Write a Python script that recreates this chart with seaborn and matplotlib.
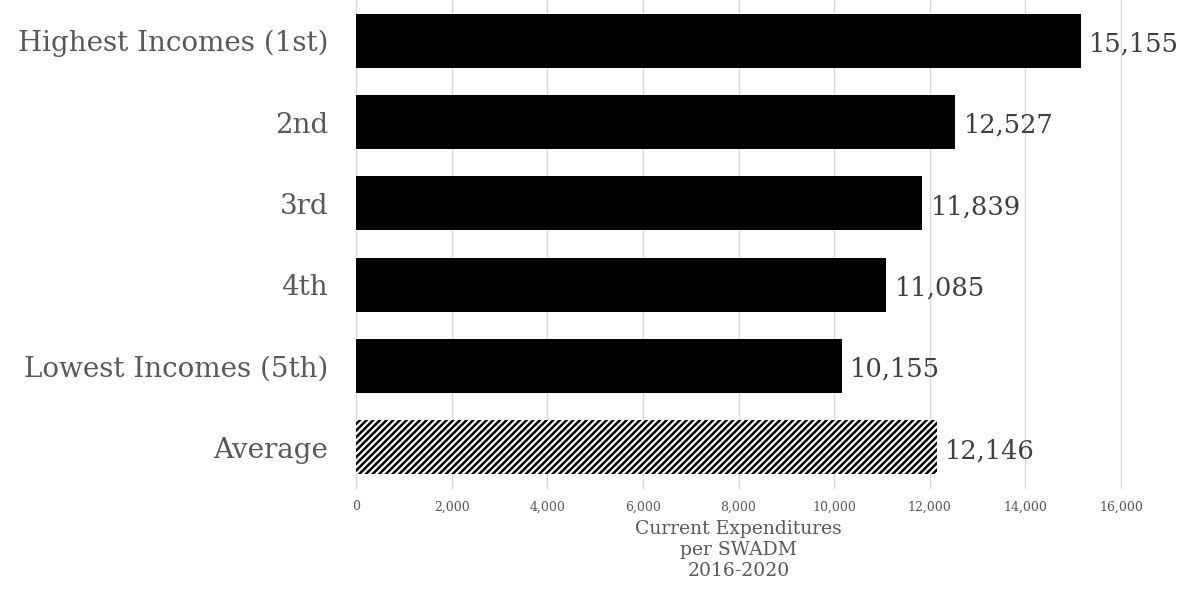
import matplotlib
matplotlib.use("Agg")
import matplotlib.pyplot as plt
import seaborn as sns
import pandas as pd
from matplotlib.ticker import FuncFormatter

categories = ["Highest Incomes (1st)", "2nd", "3rd", "4th", "Lowest Incomes (5th)", "Average"]
expenditures = [15155, 12527, 11839, 11085, 10155, 12146]
x_ticks = [0, 2000, 4000, 6000, 8000, 10000, 12000, 14000, 16000]

df = pd.DataFrame({"group": categories, "value": expenditures})

sns.set_theme(style="white")
plt.rcParams["font.family"] = ["DejaVu Serif"]
plt.rcParams["hatch.linewidth"] = 1.8
plt.rcParams["hatch.color"] = "black"

fig = plt.figure(figsize=(11.87, 5.89), dpi=100)
ax = fig.add_axes([356 / 1187, 1 - 488 / 589, (1121 - 356) / 1187, 488 / 589])

sns.barplot(data=df, x="value", y="group", order=categories, color="black",
            width=0.66, linewidth=0, saturation=1, ax=ax)

# the average bar is drawn hatched
avg = ax.patches[-1]
avg.set_facecolor("white")
avg.set_edgecolor("black")
avg.set_hatch("/////")
avg.set_linewidth(0)

for patch, v in zip(ax.patches, expenditures):
    y = patch.get_y() + patch.get_height() / 2
    ax.text(v + 180, y + 0.04, f"{v:,}", va="center", ha="left",
            fontsize=18.5, color="#404040", clip_on=False)

ax.set_xlim(0, 16000)
ax.set_ylim(5.5, -0.5)
ax.set_xticks(x_ticks)
ax.xaxis.set_major_formatter(FuncFormatter(lambda v, p: f"{int(v):,}"))
ax.grid(axis="x", color="#d9d9d9", linewidth=1.0)
ax.grid(axis="y", visible=False)
for gl in ax.get_xgridlines():
    gl.set_clip_on(False)
ax.set_axisbelow(True)
for s in ax.spines.values():
    s.set_visible(False)
ax.tick_params(axis="x", labelsize=9, colors="#595959", length=0, pad=9)
ax.tick_params(axis="y", labelsize=20, colors="#595959", length=0, pad=20)
ax.set_ylabel("")
ax.set_xlabel("Current Expenditures\nper SWADM\n2016-2020", fontsize=13.5,
              color="#595959", labelpad=5, linespacing=1.2)

fig.savefig("out.png", dpi=100)
